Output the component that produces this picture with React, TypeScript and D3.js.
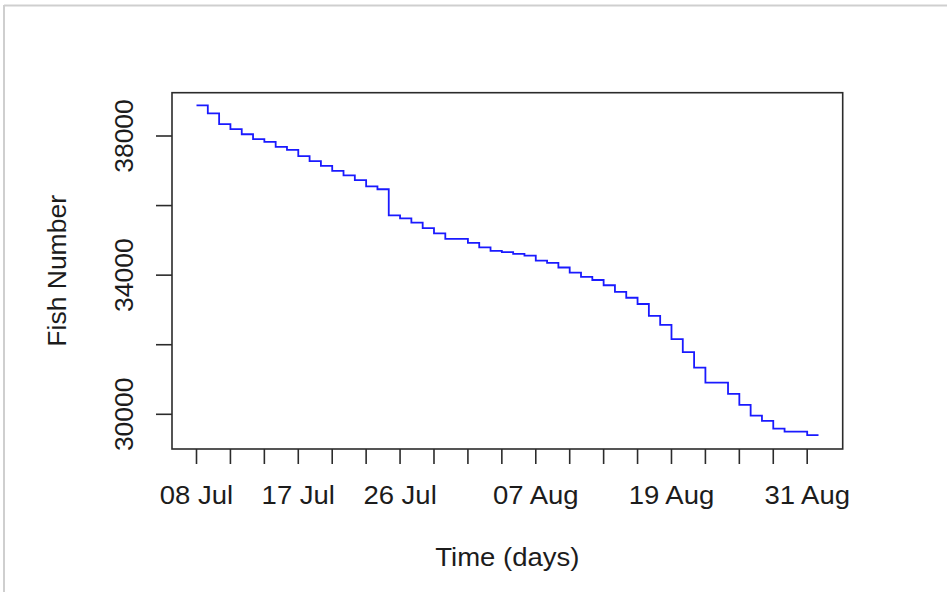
import React from "react";
import * as d3 from "d3";

const startDate = Date.UTC(2020, 6, 8);
const fishNumbers = [
  38880, 38650, 38340, 38200, 38050, 37910, 37830, 37690, 37600, 37420,
  37280, 37140, 37000, 36870, 36730, 36550, 36470, 35720, 35630, 35510,
  35350, 35200, 35040, 35040, 34930, 34800, 34700, 34660, 34610, 34560,
  34420, 34350, 34220, 34070, 33950, 33860, 33710, 33520, 33350, 33170,
  32830, 32570, 32160, 31790, 31340, 30910, 30910, 30590, 30270, 29960,
  29810, 29590, 29500, 29500, 29400, 29400,
];
const yTicks = [30000, 32000, 34000, 36000, 38000];
const yTickLabels = ["30000", "", "34000", "", "38000"];
const xLabelDates = ["2020-07-08", "2020-07-17", "2020-07-26", "2020-08-07", "2020-08-19", "2020-08-31"];
const xTickStepDays = 3;
const xTickEnd = "2020-08-31";
const xTitle = "Time (days)";
const yTitle = "Fish Number";

const DAY = 86400000;

export default function App() {
  const W = 947, H = 592;
  const box = { left: 172, right: 842.7, top: 92.7, bottom: 449 };
  const data = fishNumbers.map((v, i) => ({ date: new Date(startDate + i * DAY), value: v }));
  const x = d3
    .scaleUtc()
    .domain([data[0].date, data[data.length - 1].date])
    .range([196.5, 818.5]);
  const y = d3.scaleLinear().domain([30000, 38000]).range([414.3, 136]);
  const line = d3
    .line<{ date: Date; value: number }>()
    .x((d) => x(d.date))
    .y((d) => y(d.value))
    .curve(d3.curveStepAfter);
  const xTicks = d3.utcDay.range(
    data[0].date,
    new Date(new Date(xTickEnd + "T00:00:00Z").getTime() + 1),
    xTickStepDays
  );
  const fmt = d3.utcFormat("%d %b");
  const font = "'Liberation Sans', Arial, sans-serif";
  const axisColor = "#2b2b2b";
  const textColor = "#1c1c1c";
  const sx = 1.1;
  const sy = 1.06;
  return (
    <svg width={W} height={H} style={{ position: "absolute", left: 0, top: 0, background: "#fff" }}>
      <rect x={0} y={0} width={W} height={H} fill="#fff" />
      <line x1={4} y1={5.5} x2={W} y2={5.5} stroke="#cfcfcf" strokeWidth={2} />
      <line x1={4} y1={5} x2={4} y2={H} stroke="#cfcfcf" strokeWidth={2} />
      <path d={line(data) || ""} fill="none" stroke="#1a1aff" strokeWidth={1.8} />
      <rect
        x={box.left}
        y={box.top}
        width={box.right - box.left}
        height={box.bottom - box.top}
        fill="none"
        stroke={axisColor}
        strokeWidth={1.6}
      />
      {yTicks.map((t, i) => (
        <g key={"y" + t}>
          <line x1={box.left} x2={box.left - 16} y1={y(t)} y2={y(t)} stroke={axisColor} strokeWidth={1.6} />
          {yTickLabels[i] && (
            <text
              transform={`translate(${132.5},${y(t)}) rotate(-90) scale(${sy},1)`}
              textAnchor="middle"
              fontFamily={font}
              fontSize={25}
              fill={textColor}
            >
              {yTickLabels[i]}
            </text>
          )}
        </g>
      ))}
      {xTicks.map((d) => (
        <line
          key={"x" + d.getTime()}
          x1={x(d)}
          x2={x(d)}
          y1={box.bottom}
          y2={box.bottom + 15}
          stroke={axisColor}
          strokeWidth={1.6}
        />
      ))}
      {xLabelDates.map((s) => {
        const d = new Date(s + "T00:00:00Z");
        return (
          <text
            key={"xl" + s}
            transform={`translate(${x(d)},${504}) scale(${sx},1)`}
            textAnchor="middle"
            fontFamily={font}
            fontSize={25}
            fill={textColor}
          >
            {fmt(d)}
          </text>
        );
      })}
      <text
        transform={`translate(${(box.left + box.right) / 2},${566}) scale(${sx},1)`}
        textAnchor="middle"
        fontFamily={font}
        fontSize={25}
        fill={textColor}
      >
        {xTitle}
      </text>
      <text
        transform={`translate(${66},${(box.top + box.bottom) / 2}) rotate(-90) scale(${sy},1)`}
        textAnchor="middle"
        fontFamily={font}
        fontSize={25}
        fill={textColor}
      >
        {yTitle}
      </text>
    </svg>
  );
}
